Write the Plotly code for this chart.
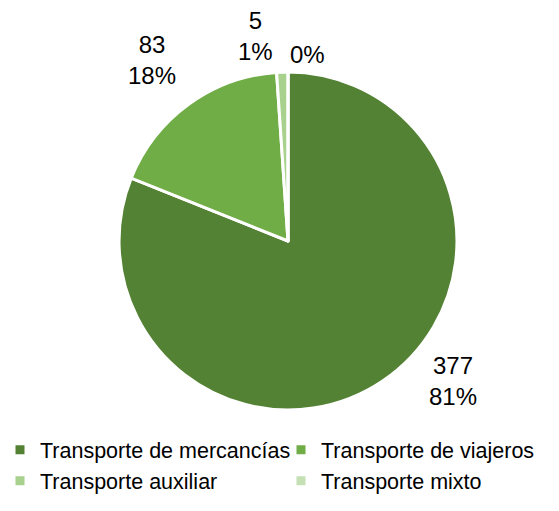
import math
import plotly.graph_objects as go

categories = ["Transporte de mercancías", "Transporte de viajeros",
              "Transporte auxiliar", "Transporte mixto"]
values = [377, 83, 5, 0]
show_value = [True, True, True, False]
colors = ["#548235", "#70AD47", "#A9D18E", "#C5E0B4"]

# label placement style (relative to slice middle angle / radius)
LABEL_ANGLE_SHIFT = [-15.5, -1.0, -7.0, 6.0]
LABEL_DIST = [1.28, 1.34, 1.23, 1.11]

FONT = "Liberation Sans, Arial, sans-serif"
W, H = 559, 511
DOM_X = [0.2129, 0.8175]
DOM_Y = [0.1977, 0.859]

fig = go.Figure(go.Pie(
    labels=categories,
    values=values,
    sort=False,
    direction="clockwise",
    rotation=0,
    marker=dict(colors=colors, line=dict(color="white", width=3)),
    textinfo="none",
    showlegend=True,
    domain=dict(x=DOM_X, y=DOM_Y),
    hoverinfo="label+value+percent",
))

# data labels computed from the values
total = sum(values)
cx = (DOM_X[0] + DOM_X[1]) / 2
cy = (DOM_Y[0] + DOM_Y[1]) / 2
r_px = min((DOM_X[1] - DOM_X[0]) * W, (DOM_Y[1] - DOM_Y[0]) * H) / 2
cum = 0.0
for i, v in enumerate(values):
    mid = (cum + v / 2) / total
    cum += v
    ang = math.radians(mid * 360 + LABEL_ANGLE_SHIFT[i])
    d = LABEL_DIST[i] * r_px
    x = cx + d * math.sin(ang) / W
    y = cy + d * math.cos(ang) / H
    pct = f"{round(100 * v / total)}%"
    txt = f"{v}<br>{pct}" if show_value[i] else pct
    fig.add_annotation(
        x=x, y=y, xref="paper", yref="paper",
        text=txt, showarrow=False,
        xanchor="center", yanchor="middle",
        font=dict(family=FONT, size=24, color="black"),
    )

fig.update_layout(
    width=W, height=H,
    margin=dict(l=0, r=0, t=0, b=0),
    paper_bgcolor="white",
    plot_bgcolor="white",
    font=dict(family=FONT, size=21.5, color="black"),
    legend=dict(
        orientation="h",
        x=0.0, xanchor="left",
        y=0.16, yanchor="top",
        entrywidth=236, entrywidthmode="pixels",
        font=dict(family=FONT, size=21.5, color="black"),
        itemclick=False,
    ),
)

fig.write_html("out.html", config={"displayModeBar": False},
               post_script="document.body.style.margin='0';")
